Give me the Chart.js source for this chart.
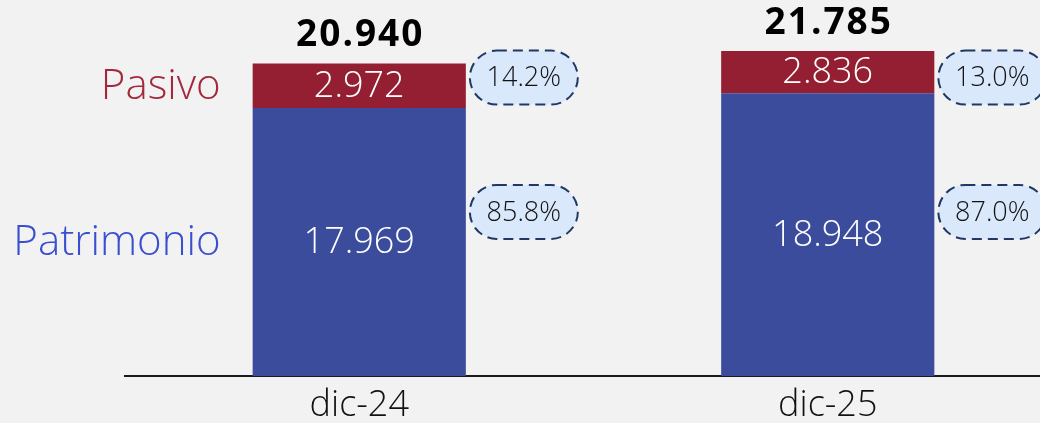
<!DOCTYPE html>
<html>
<head>
<meta charset="utf-8">
<script src="https://cdn.jsdelivr.net/npm/chart.js@4.4.1/dist/chart.umd.min.js"></script>
<style>
  html, body { margin: 0; padding: 0; background: #f2f2f2; overflow: hidden; }
  #wrap { width: 1062px; height: 423px; position: relative; }
</style>
</head>
<body>
<div id="wrap"><canvas id="balanceChart"></canvas></div>
<script>
const categories = ['dic-24', 'dic-25'];
const patrimonio = [17969, 18948];
const pasivo = [2972, 2836];
const totals = ['20.940', '21.785'];
const pctPasivo = ['14.2%', '13.0%'];
const pctPatrimonio = ['85.8%', '87.0%'];

const FONT = '"Open Sans", "DejaVu Sans", sans-serif';

// numbers shown with a dot as thousands separator
function fmt(v) {
    return v.toString().replace(/\B(?=(\d{3})+(?!\d))/g, '.');
}

function pill(ctx, cx, cy, w, h, text) {
    const r = h / 2;
    const x = cx - w / 2, y = cy - h / 2;
    ctx.save();
    ctx.beginPath();
    ctx.moveTo(x + r, y);
    ctx.lineTo(x + w - r, y);
    ctx.arc(x + w - r, cy, r, -Math.PI / 2, Math.PI / 2);
    ctx.lineTo(x + r, y + h);
    ctx.arc(x + r, cy, r, Math.PI / 2, Math.PI * 1.5);
    ctx.closePath();
    ctx.fillStyle = '#dae8fc';
    ctx.fill();
    ctx.setLineDash([10, 6]);
    ctx.lineWidth = 2;
    ctx.strokeStyle = '#1f3864';
    ctx.stroke();
    ctx.setLineDash([]);
    ctx.fillStyle = '#111111';
    ctx.font = '300 27px ' + FONT;
    ctx.textAlign = 'center';
    ctx.textBaseline = 'middle';
    ctx.fillText(text, cx, cy + 1);
    ctx.restore();
}

const labelPlugin = {
    id: 'labelPlugin',
    afterDatasetsDraw(chart) {
        const ctx = chart.ctx;
        const y = chart.scales.y;
        const metaPat = chart.getDatasetMeta(0);
        const metaPas = chart.getDatasetMeta(1);
        ctx.save();
        ctx.textAlign = 'center';
        ctx.textBaseline = 'middle';

        [metaPat, metaPas].forEach((meta, di) => {
            meta.data.forEach((bar, i) => {
                const val = chart.data.datasets[di].data[i];
                ctx.fillStyle = '#ffffff';
                ctx.font = '300 36px ' + FONT;
                ctx.fillText(fmt(val), bar.x, (bar.y + bar.base) / 2 + 1);
            });
        });

        metaPas.data.forEach((bar, i) => {
            ctx.fillStyle = '#000000';
            ctx.font = 'bold 37px ' + FONT;
            ctx.letterSpacing = '2px';
            ctx.fillText(totals[i], bar.x + 1, bar.y - 28);
            ctx.letterSpacing = '0px';

            const px = bar.x + bar.width / 2 + 58;
            pill(ctx, px, y.getPixelForValue(20000), 108, 54, pctPasivo[i]);
            pill(ctx, px, y.getPixelForValue(11000), 108, 54, pctPatrimonio[i]);
        });

        // series names on the left of the first bar
        const b0 = metaPas.data[0];
        const p0 = metaPat.data[0];
        const lx = b0.x - b0.width / 2 - 32;
        ctx.textAlign = 'right';
        ctx.font = '300 42px ' + FONT;
        ctx.fillStyle = '#a3283c';
        ctx.fillText('Pasivo', lx, (b0.y + b0.base) / 2 + 1);
        ctx.fillStyle = '#3a4fd0';
        ctx.fillText('Patrimonio', lx, (p0.y + p0.base) / 2 + 1);
        ctx.restore();
    }
};

new Chart(document.getElementById('balanceChart'), {
    type: 'bar',
    data: {
        labels: categories,
        datasets: [{
            label: 'Patrimonio',
            data: patrimonio,
            backgroundColor: '#3a4c9b'
        }, {
            label: 'Pasivo',
            data: pasivo,
            backgroundColor: '#951f32'
        }]
    },
    options: {
        responsive: true,
        maintainAspectRatio: false,
        animation: false,
        layout: { padding: { left: 125, top: 3, bottom: -13, right: 0 } },
        datasets: { bar: { categoryPercentage: 1, barPercentage: 0.455 } },
        plugins: { legend: { display: false }, tooltip: { enabled: false } },
        scales: {
            x: {
                stacked: true,
                grid: { display: false, drawTicks: false },
                border: { display: true, color: '#1a1a1a', width: 2 },
                ticks: {
                    color: '#111111',
                    font: { family: FONT, size: 36, weight: 300, lineHeight: 1 },
                    padding: 12
                }
            },
            y: {
                stacked: true,
                display: false,
                min: 0,
                max: 25000
            }
        }
    },
    plugins: [labelPlugin]
});
</script>
</body>
</html>
